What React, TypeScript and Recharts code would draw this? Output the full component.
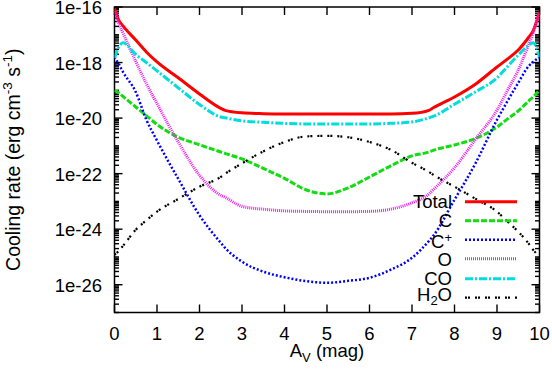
import { Legend, Line, LineChart, ReferenceArea, ReferenceLine, XAxis, YAxis } from "recharts";

// visual extinction (mag)
const av = [0, 0.1, 0.2, 0.5, 0.75, 1, 1.5, 2, 2.5, 2.6, 3, 3.5, 4, 4.5, 5, 5.5, 6, 6.5, 7, 7.4, 7.5, 8, 8.5, 9, 9.25, 9.5, 9.75, 9.85, 10];

// log10 of cooling rate (erg cm^-3 s^-1)
const totalLog = [-16.05, -16.47, -16.68, -17.19, -17.62, -17.98, -18.55, -19.13, -19.65, -19.72, -19.81, -19.84, -19.85, -19.85, -19.85, -19.85, -19.85, -19.85, -19.83, -19.72, -19.63, -19.24, -18.77, -18.16, -17.87, -17.55, -17.08, -16.86, -16.18];
const cLog = [-18.99, -19.09, -19.22, -19.6, -19.91, -20.23, -20.69, -20.96, -21.22, -21.27, -21.47, -21.81, -22.17, -22.58, -22.73, -22.51, -22.12, -21.72, -21.36, -21.22, -21.16, -20.97, -20.73, -20.32, -20.03, -19.74, -19.38, -19.24, -18.99];
const cPlusLog = [-17.8, -18.05, -18.34, -19.06, -20.06, -20.81, -22.19, -23.5, -24.49, -24.67, -25.17, -25.53, -25.73, -25.87, -25.93, -25.86, -25.75, -25.46, -25.03, -24.42, -24.24, -22.94, -21.61, -20.06, -19.38, -18.73, -18.12, -17.98, -17.8];
const oLog = [-16.15, -16.58, -16.94, -17.96, -18.76, -19.48, -20.86, -22.06, -22.78, -22.85, -23.18, -23.28, -23.34, -23.36, -23.37, -23.37, -23.36, -23.28, -23.05, -22.73, -22.58, -21.79, -20.75, -19.71, -18.99, -18.27, -17.33, -16.94, -16.2];
const coLog = [-17.83, -17.44, -17.29, -17.71, -18.0, -18.3, -18.91, -19.51, -19.96, -19.99, -20.1, -20.15, -20.19, -20.21, -20.21, -20.21, -20.21, -20.19, -20.14, -19.99, -19.94, -19.5, -19.05, -18.55, -18.14, -17.73, -17.37, -17.29, -17.8];
const h2oLog = [-24.92, -24.78, -24.6, -24.02, -23.68, -23.37, -22.91, -22.47, -22.12, -22.01, -21.63, -21.2, -20.86, -20.66, -20.64, -20.69, -20.86, -21.14, -21.61, -21.94, -22.04, -22.47, -22.91, -23.37, -23.73, -24.09, -24.53, -24.74, -24.99];

const xTicks = [0, 1, 2, 3, 4, 5, 6, 7, 8, 9, 10];
const yTicks = [1e-26, 1e-24, 1e-22, 1e-20, 1e-18, 1e-16];
const xDomain = [0, 10];
const yDomain = [1e-27, 1e-16];

// log minor ticks: odd decades plus 2..9 x 10^n
const yMinorTicks: number[] = [];
for (let n = -27; n < -16; n++) {
  if (n % 2 !== 0) yMinorTicks.push(10 ** n);
  for (let k = 2; k <= 9; k++) yMinorTicks.push(k * 10 ** n);
}

const series = [
  { key: "total", name: "Total", color: "#ff0000", dash: undefined, width: 3 },
  { key: "c", name: "C", color: "#11dd11", dash: "6 2", width: 3 },
  { key: "cplus", name: "C+", color: "#0000ff", dash: "2 2", width: 2.5 },
  { key: "o", name: "O", color: "#ee22ee", dash: "1 1", width: 3 },
  { key: "co", name: "CO", color: "#00dddd", dash: "8 2 2 2", width: 3 },
  { key: "h2o", name: "H2O", color: "#000000", dash: "2 1 2 5", width: 2.2 },
];

const data = av.map((a, i) => ({
  av: a,
  total: 10 ** totalLog[i],
  c: 10 ** cLog[i],
  cplus: 10 ** cPlusLog[i],
  o: 10 ** oLog[i],
  co: 10 ** coLog[i],
  h2o: 10 ** h2oLog[i],
}));

const FONT = '"Liberation Sans", Arial, Helvetica, sans-serif';
const FS = 18.5;

// plot box
const W = 552;
const H = 372;
const PLOT_LEFT = 114.5;
const PLOT_TOP = 7;
const PLOT_W = 425;
const PLOT_H = 305.5;
const X_AXIS_H = H - PLOT_TOP - PLOT_H;
const X_MARGIN = 14;
const Y_MARGIN = 12.5;

// inward tick lengths, converted from pixels to data units
const decades = Math.log10(yDomain[1] / yDomain[0]);
const xTickLen = (8 / PLOT_H) * decades; // in decades
const yTickLen = (8 / PLOT_W) * (xDomain[1] - xDomain[0]); // in mag
const yMinorLen = (4.5 / PLOT_W) * (xDomain[1] - xDomain[0]);

type Seg = { x1: number; y1: number; x2: number; y2: number };
const tickSegments: Seg[] = [];
xTicks.forEach((t) => {
  tickSegments.push({ x1: t, y1: yDomain[0], x2: t, y2: yDomain[0] * 10 ** xTickLen });
  tickSegments.push({ x1: t, y1: yDomain[1], x2: t, y2: yDomain[1] / 10 ** xTickLen });
});
const yTickDefs: [number, number][] = [
  ...yTicks.map((v): [number, number] => [v, yTickLen]),
  ...yMinorTicks.map((v): [number, number] => [v, yMinorLen]),
];
yTickDefs.forEach(([v, len]) => {
  tickSegments.push({ x1: xDomain[0], y1: v, x2: xDomain[0] + len, y2: v });
  tickSegments.push({ x1: xDomain[1], y1: v, x2: xDomain[1] - len, y2: v });
});

function XTick(props: any) {
  const { x, y, payload } = props;
  return (
    <text x={x} y={y - X_MARGIN + 27} textAnchor="middle" fontFamily={FONT} fontSize={FS} fill="#000">
      {payload.value}
    </text>
  );
}

function YTick(props: any) {
  const { x, y, payload } = props;
  return (
    <text x={x} y={y + 7} textAnchor="end" fontFamily={FONT} fontSize={FS} fill="#000">
      {`1e${Math.round(Math.log10(payload.value))}`}
    </text>
  );
}

function legendName(name: string) {
  if (name === "C+")
    return (
      <>
        C<sup style={{ fontSize: 13, verticalAlign: 6 }}>+</sup>
      </>
    );
  if (name === "H2O")
    return (
      <>
        H<sub style={{ fontSize: 13, verticalAlign: -4 }}>2</sub>O
      </>
    );
  return name;
}

function renderLegend() {
  return (
    <div style={{ fontFamily: FONT, fontSize: FS, color: "#000" }}>
      {series.map((s) => (
        <div key={s.key} style={{ display: "flex", alignItems: "center", height: 19.3 }}>
          <span style={{ width: 72, textAlign: "right", lineHeight: "19px", whiteSpace: "nowrap" }}>
            {legendName(s.name)}
          </span>
          <svg width={65} height={19.3}>
            <line x1={13} x2={65} y1={9.65} y2={9.65} stroke={s.color} strokeWidth={s.width} strokeDasharray={s.dash} />
          </svg>
        </div>
      ))}
    </div>
  );
}

function YLabel(props: any) {
  const vb = props.viewBox;
  const cx = vb.x + 20;
  const cy = vb.y + vb.height / 2;
  return (
    <text
      x={cx}
      y={cy}
      transform={`rotate(-90, ${cx}, ${cy})`}
      textAnchor="middle"
      fontFamily={FONT}
      fontSize={19.5}
      fill="#000"
    >
      Cooling rate (erg cm
      <tspan dy={-8} fontSize={13.5}>-3</tspan>
      <tspan dy={8}> s</tspan>
      <tspan dy={-8} fontSize={13.5}>-1</tspan>
      <tspan dy={8}>)</tspan>
    </text>
  );
}

function XLabel(props: any) {
  const vb = props.viewBox;
  const cx = vb.x + vb.width / 2;
  const cy = vb.y + 44.5;
  return (
    <text x={cx} y={cy} textAnchor="middle" fontFamily={FONT} fontSize={FS} fill="#000">
      A<tspan dy={5} fontSize={13}>V</tspan>
      <tspan dy={-5}> (mag)</tspan>
    </text>
  );
}

export default function App() {
  return (
    <div style={{ position: "absolute", left: 0, top: 0, width: W, height: H, background: "#fff" }}>
      <LineChart
        width={W}
        height={H}
        data={data}
        margin={{ top: PLOT_TOP, right: W - PLOT_LEFT - PLOT_W, bottom: 0, left: 0 }}
      >
        <XAxis
          xAxisId="bottom"
          dataKey="av"
          type="number"
          domain={xDomain}
          ticks={xTicks}
          interval={0}
          allowDataOverflow
          height={X_AXIS_H}
          axisLine={false}
          tickLine={false}
          tickSize={0}
          tickMargin={X_MARGIN}
          tick={<XTick />}
          label={<XLabel />}
        />
        <YAxis
          yAxisId="left"
          orientation="left"
          type="number"
          scale="log"
          domain={yDomain}
          ticks={yTicks}
          interval={0}
          allowDataOverflow
          width={PLOT_LEFT}
          axisLine={false}
          tickLine={false}
          tickSize={0}
          tickMargin={Y_MARGIN}
          tick={<YTick />}
          label={<YLabel />}
        />
        <ReferenceArea
          xAxisId="bottom"
          yAxisId="left"
          x1={xDomain[0]}
          x2={xDomain[1]}
          y1={yDomain[0]}
          y2={yDomain[1]}
          fill="none"
          fillOpacity={0}
          stroke="#000"
          strokeWidth={1.5}
          ifOverflow="visible"
        />
        {tickSegments.map((s, i) => (
          <ReferenceLine
            key={`tick-${i}`}
            xAxisId="bottom"
            yAxisId="left"
            segment={[
              { x: s.x1, y: s.y1 },
              { x: s.x2, y: s.y2 },
            ]}
            stroke="#000"
            strokeWidth={1.4}
            strokeOpacity={1}
            ifOverflow="visible"
          />
        ))}
        {series.map((s) => (
          <Line
            key={s.key}
            xAxisId="bottom"
            yAxisId="left"
            type="monotone"
            dataKey={s.key}
            name={s.name}
            stroke={s.color}
            strokeWidth={s.width}
            strokeDasharray={s.dash}
            dot={false}
            activeDot={false}
            isAnimationActive={false}
          />
        ))}
        <Legend
          layout="vertical"
          align="center"
          verticalAlign="middle"
          content={renderLegend}
          wrapperStyle={{ left: 380, top: 191.5, width: 150, height: 116 }}
        />
      </LineChart>
    </div>
  );
}
